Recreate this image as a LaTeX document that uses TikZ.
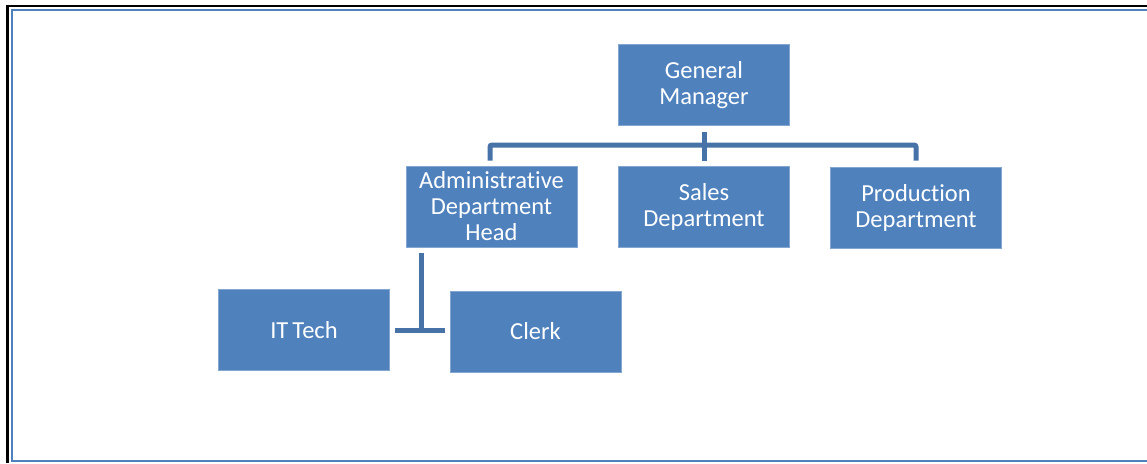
\documentclass[tikz,border=0pt]{standalone}
\usepackage{fontspec}
\setmainfont{Carlito}[Ligatures=NoCommon]
\usepackage{tikz}
\usetikzlibrary{positioning}

\definecolor{boxblue}{HTML}{4F81BD}
\definecolor{lineblue}{HTML}{4672A8}

\begin{document}
\begin{tikzpicture}[x=1pt, y=-1pt, node distance=121.5pt, on grid,
	unit/.style={rectangle, fill=boxblue, draw=boxblue!70!white, line width=0.6pt,
		minimum width=171pt, minimum height=81pt, align=center, text=white,
		font=\fontsize{24.5}{26}\selectfont},
	link/.style={draw=lineblue, line width=5pt}]
	\useasboundingbox (0,0) rectangle (1147,463);
	% page frame
	\draw[black, line width=2.4pt] (7.3,463) -- (7.3,5.7) -- (1150,5.7);
	\draw[boxblue, line width=2.3pt] (1150,10) -- (12,10) -- (12,461) -- (1150,461);
	\node[unit] (gm) at (704,85) {General\\Manager};
	\node[unit] (sales) [below=of gm] {Sales\\Department};
	\node[unit] (admin) [left=212.5pt of sales] {Administrative\\Department\\Head};
	\node[unit] (prod) [right=212pt of sales, yshift=-1pt] {Production\\Department};
	\node[unit] (ittech) [below left=123.5pt and 187.5pt of admin] {IT\,Tech};
	\node[unit] (clerk) [below right=125pt and 44pt of admin] {Clerk};
	\coordinate (bar) at (703.5,145);
	\coordinate (tee) at (421,330.5);
	\draw[link, rounded corners=2pt] ([xshift=-1.5pt, yshift=5pt]admin.north) |- (bar) -| ([yshift=6pt]prod.north);
	\draw[link] ([yshift=-6pt]gm.south) -- ([yshift=5pt]sales.north);
	\draw[link] ([yshift=-6pt]admin.south -| tee) -- (tee);
	\draw[link] ([xshift=5pt]ittech.east |- tee) -- ([xshift=-5pt]clerk.west |- tee);
\end{tikzpicture}
\end{document}
